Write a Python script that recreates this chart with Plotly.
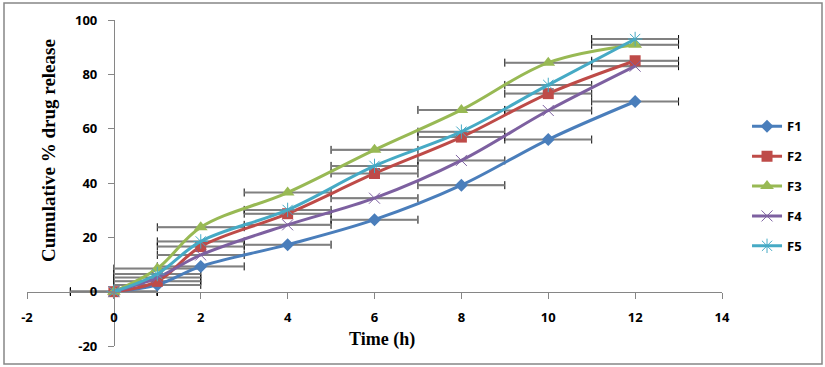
import plotly.graph_objects as go

times = [0, 1, 2, 4, 6, 8, 10, 12]
x_err = [1, 1, 1, 1, 1, 1, 1, 1]
series_names = ["F1", "F2", "F3", "F4", "F5"]
f1 = [0, 2.5, 9.3, 17.3, 26.5, 39.2, 56.0, 70.0]
f2 = [0, 3.8, 16.6, 28.7, 43.5, 56.9, 72.9, 85.0]
f3 = [0, 8.5, 23.7, 36.5, 52.2, 66.9, 84.3, 90.9]
f4 = [0, 5.2, 13.5, 24.6, 34.4, 48.3, 66.7, 83.0]
f5 = [0, 6.5, 18.5, 30.1, 46.3, 58.9, 76.1, 93.0]
series_values = [f1, f2, f3, f4, f5]
x_ticks = [-2, 0, 2, 4, 6, 8, 10, 12, 14]
y_ticks = [-20, 0, 20, 40, 60, 80, 100]

colors = ["#4A7EBB", "#BE4B48", "#98B954", "#7D60A0", "#46AAC5"]
symbols = ["diamond", "square", "triangle-up", "x-thin-open", "asterisk-open"]
sizes = [10, 11, 12, 11, 12]

fig = go.Figure()

# error bars (behind all lines): black caps, then gray bar lines on top
for vals in series_values:
    fig.add_trace(go.Scatter(
        x=times, y=vals, mode="markers", marker=dict(opacity=0, size=1),
        showlegend=False, hoverinfo="skip",
        error_x=dict(type="data", array=x_err, symmetric=True,
                     color="#000000", thickness=1, width=4)))
for vals in series_values:
    fig.add_trace(go.Scatter(
        x=times, y=vals, mode="markers", marker=dict(opacity=0, size=1),
        showlegend=False, hoverinfo="skip",
        error_x=dict(type="data", array=x_err, symmetric=True,
                     color="#808080", thickness=2, width=0)))

for i, (name, vals) in enumerate(zip(series_names, series_values)):
    line_marker = symbols[i].endswith("open")
    fig.add_trace(go.Scatter(
        x=times, y=vals, name=name, mode="lines+markers",
        legendgroup=name,
        line=dict(color=colors[i], width=3, shape="spline", smoothing=1),
        marker=dict(symbol=symbols[i], size=sizes[i], color=colors[i],
                    line=dict(color=colors[i], width=1 if line_marker else 0))))

axis_font = dict(family="Open Sans, Liberation Sans, sans-serif", size=13,
                 color="#000000", weight="bold")

fig.update_layout(
    width=825, height=367,
    margin=dict(l=27, r=103, t=20, b=21),
    paper_bgcolor="white", plot_bgcolor="white",
    showlegend=True,
    legend=dict(x=1.036, y=0.72, xanchor="left", yanchor="top",
                font=dict(family="Open Sans, Liberation Sans, sans-serif", size=13,
                          color="#000000", weight="bold"),
                tracegroupgap=10, bgcolor="rgba(0,0,0,0)"),
    xaxis=dict(range=[-2, 14], tickmode="array", tickvals=x_ticks,
               ticktext=[str(v) for v in x_ticks],
               showgrid=False, zeroline=False, showline=True,
               linecolor="#868686", linewidth=1, ticks="outside", ticklen=6,
               tickcolor="#868686", anchor="free", position=20/120,
               ticklabelstandoff=8, tickfont=axis_font, domain=[0, 1]),
    yaxis=dict(range=[-20, 100], tickmode="array", tickvals=y_ticks,
               ticktext=[str(v) for v in y_ticks],
               showgrid=False, zeroline=False, showline=True,
               linecolor="#868686", linewidth=1, ticks="outside", ticklen=6,
               tickcolor="#868686", anchor="free", position=2/16,
               ticklabelstandoff=8, tickfont=axis_font, domain=[0, 1]),
    annotations=[
        dict(text="<b>Cumulative % drug release</b>", xref="paper", yref="paper",
             x=(48-27)/695, y=(346-151)/326, textangle=-90, showarrow=False,
             font=dict(family="Liberation Serif, Times New Roman, serif", size=19, color="#000000"),
             xanchor="center", yanchor="middle"),
        dict(text="<b>Time (h)</b>", xref="paper", yref="paper",
             x=(382-27)/695, y=(346-339)/326, showarrow=False,
             font=dict(family="Liberation Serif, Times New Roman, serif", size=18, color="#000000"),
             xanchor="center", yanchor="middle"),
    ],
    shapes=[dict(type="rect", xref="paper", yref="paper",
                 x0=(4-27)/695, x1=(822-27)/695, y0=(346-364)/326, y1=(346-3)/326,
                 line=dict(color="#868686", width=1.5), fillcolor="rgba(0,0,0,0)")],
)

fig.write_html("out.html", config={"displayModeBar": False},
               post_script="document.body.style.margin='0px';")
